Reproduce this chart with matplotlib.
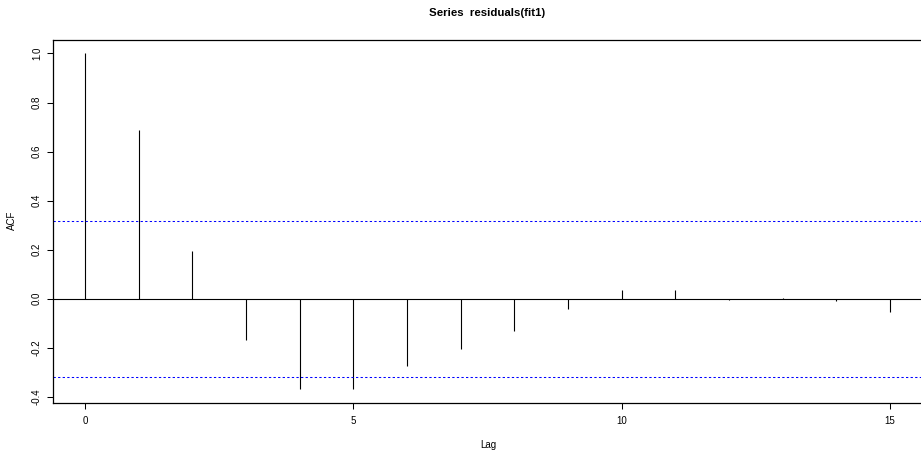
"""
ACF of model residuals, drawn in the style of R's acf() plot.
"""

import matplotlib
matplotlib.use("Agg")
import matplotlib.pyplot as plt

plt.rcParams["font.family"] = ["Liberation Sans", "DejaVu Sans"]
plt.rcParams["axes.unicode_minus"] = False

# autocorrelation of residuals(fit1) by lag
lags = [0, 1, 2, 3, 4, 5, 6, 7, 8, 9, 10, 11, 12, 13, 14, 15]
acf_vals = [1.0, 0.689, 0.193, -0.170, -0.367, -0.368, -0.274, -0.206,
            -0.132, -0.042, 0.037, 0.034, -0.004, 0.004, -0.008, -0.055]
conf_bound = 0.318   # approx 1.96 / sqrt(n)

x_ticks = [0, 5, 10, 15]
y_ticks = [-0.4, -0.2, 0.0, 0.2, 0.4, 0.6, 0.8, 1.0]

W, H = 921, 451
fig = plt.figure(figsize=(W / 100, H / 100), dpi=100)
ax = fig.add_axes([53 / W, 48 / H, 869 / W, 363 / H])

ax.vlines(lags, 0, acf_vals, color="black", lw=0.8)
ax.axhline(0, color="black", lw=0.8)
for b in (conf_bound, -conf_bound):
    ax.axhline(b, color="blue", lw=0.75, ls=(0, (2.2, 2.2)))

ax.set_xlim(-0.6, 15.6)
ax.set_ylim(-0.425, 1.055)

ax.set_xticks(x_ticks)
ax.set_xticklabels([str(t) for t in x_ticks])
ax.set_yticks(y_ticks)
ax.set_yticklabels([f"{t:.1f}" for t in y_ticks], rotation=90, va="center")

ax.tick_params(axis="both", direction="out", length=4, width=0.75,
               labelsize=7, colors="black")
ax.tick_params(axis="x", pad=5)
ax.tick_params(axis="y", pad=4)
for side in ("left", "top", "bottom", "right"):
    ax.spines[side].set_linewidth(0.9)

fig.text(487 / W, 1 - 13 / H, "Series  residuals(fit1)", ha="center",
         va="center", fontsize=8.2, fontweight="bold")
fig.text(488 / W, 1 - 445 / H, "Lag", ha="center", va="center", fontsize=7)
fig.text(12 / W, 1 - 220 / H, "ACF", ha="center", va="center",
         rotation=90, fontsize=7)

fig.savefig("out.png", dpi=100)
